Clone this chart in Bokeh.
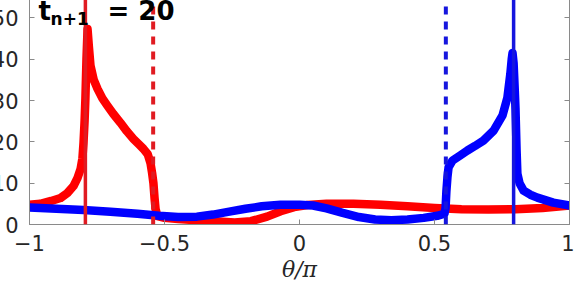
from bokeh.plotting import figure
from bokeh.models import LinearAxis, Range1d, Span, Label, FixedTicker
from bokeh.embed import file_html
from bokeh.resources import INLINE

# ---- data ----
theta_red = [-1.00, -0.96, -0.92, -0.885, -0.86, -0.837, -0.822, -0.811, -0.804, -0.80,
             -0.796, -0.793, -0.789, -0.785, -0.780, -0.774, -0.762, -0.748, -0.73, -0.711,
             -0.69, -0.663, -0.64, -0.615, -0.595, -0.578, -0.562, -0.552, -0.546, -0.541,
             -0.537, -0.533, -0.526, -0.50, -0.45, -0.38, -0.30, -0.24, -0.18, -0.12,
             -0.07, -0.02, 0.03, 0.10, 0.20, 0.30, 0.40, 0.50, 0.60, 0.70,
             0.80, 0.90, 1.00]
rho_red = [4.8, 5.0, 5.7, 6.4, 7.6, 9.3, 11.3, 13.4, 16.0, 19.7,
           25.0, 30.4, 40.0, 47.3, 43.0, 38.4, 35.0, 32.8, 30.5, 28.7,
           26.8, 24.6, 22.6, 20.7, 19.4, 18.3, 17.0, 14.9, 12.5, 10.0,
           6.5, 3.7, 2.0, 1.6, 1.3, 1.0, 0.7, 0.5, 0.8, 1.9,
           3.2, 4.2, 4.7, 5.0, 5.0, 4.8, 4.4, 4.0, 3.7, 3.6,
           3.7, 4.0, 4.6]

theta_blue = [-1.00, -0.90, -0.80, -0.70, -0.60, -0.52, -0.45, -0.38, -0.32, -0.26,
              -0.20, -0.14, -0.07, 0.00, 0.05, 0.10, 0.16, 0.22, 0.28, 0.34,
              0.40, 0.46, 0.51, 0.537, 0.541, 0.544, 0.548, 0.552, 0.567, 0.595,
              0.622, 0.65, 0.681, 0.719, 0.752, 0.770, 0.781, 0.786, 0.789, 0.793,
              0.797, 0.800, 0.804, 0.807, 0.815, 0.83, 0.855, 0.881, 0.94, 1.00]
rho_blue = [4.1, 3.8, 3.5, 3.1, 2.6, 2.1, 1.8, 1.9, 2.4, 3.1,
            3.8, 4.4, 4.8, 4.8, 4.6, 3.9, 2.8, 1.8, 1.2, 1.0,
            1.2, 1.6, 2.1, 2.6, 4.0, 8.0, 11.5, 13.8, 15.5, 16.7,
            17.9, 19.0, 20.3, 22.7, 26.4, 30.7, 36.5, 40.0, 41.5, 39.0,
            33.0, 28.0, 18.0, 12.3, 10.0, 8.2, 7.2, 6.5, 5.3, 4.6]

x_ticks = [-1, -0.5, 0, 0.5, 1]
x_tick_labels = ["\u22121", "\u22120.5", "0", "0.5", "1"]
y_ticks = [0, 10, 20, 30, 40, 50]

red_solid_x = -0.793
red_dashed_x = -0.542
blue_solid_x = 0.793
blue_dashed_x = 0.542

# ---- style ----
AX = "#8a8a8a"
TXT = "#262626"
RED = "#FF0000"
BLUE = "#0000FF"
RED_V = "#E01B22"
BLUE_V = "#1616DE"

p = figure(width=590, height=311,
           x_range=Range1d(-1, 1), y_range=Range1d(0, 60),
           output_backend="svg", toolbar_location=None,
           min_border_left=45, min_border_right=5,
           min_border_top=0, min_border_bottom=63,
           margin=(-24, 0, 0, -16))

p.grid.visible = False
p.background_fill_color = "white"
p.border_fill_color = "white"
p.outline_line_color = AX
p.outline_line_width = 1

xa = p.xaxis[0]
xa.ticker = FixedTicker(ticks=x_ticks)
xa.major_label_overrides = {t: l for t, l in zip(x_ticks, x_tick_labels)}
xa.axis_label = "\u03b8/\u03c0"
xa.axis_label_text_font = "DejaVu Serif"
xa.axis_label_text_font_style = "italic"
xa.axis_label_text_font_size = "22px"
xa.axis_label_text_color = TXT
xa.axis_label_standoff = 3
xa.major_label_standoff = 10

ya = p.yaxis[0]
ya.ticker = FixedTicker(ticks=y_ticks)
ya.major_label_standoff = 11

for ax in (xa, ya):
    ax.axis_line_color = AX
    ax.major_tick_line_color = AX
    ax.major_tick_in = 5
    ax.major_tick_out = 0
    ax.minor_tick_line_color = None
    ax.major_label_text_font = "DejaVu Sans"
    ax.major_label_text_font_size = "21px"
    ax.major_label_text_color = TXT

ra = LinearAxis(ticker=FixedTicker(ticks=y_ticks),
                major_label_overrides={t: "" for t in y_ticks},
                major_label_standoff=0,
                axis_line_color=AX, major_tick_line_color=AX,
                major_tick_in=5, major_tick_out=0, minor_tick_line_color=None)
p.add_layout(ra, "right")

p.line(theta_red, rho_red, line_width=8.5, line_color=RED, line_join="round", line_cap="round")
p.line(theta_blue, rho_blue, line_width=8.5, line_color=BLUE, line_join="round", line_cap="round")

p.add_layout(Span(location=red_solid_x, dimension="height", line_color=RED_V, line_width=3.5))
p.add_layout(Span(location=red_dashed_x, dimension="height", line_color=RED_V, line_width=4, line_dash="8 7"))
p.add_layout(Span(location=blue_solid_x, dimension="height", line_color=BLUE_V, line_width=3.5))
p.add_layout(Span(location=blue_dashed_x, dimension="height", line_color=BLUE_V, line_width=4, line_dash="8 7"))

p.add_layout(Label(x=-0.967, y=51.7, text="t", text_font="DejaVu Sans", text_font_style="bold",
                   text_font_size="26px", text_color="black", text_baseline="alphabetic"))
p.add_layout(Label(x=-0.922, y=49.8, text="n+1", text_font="DejaVu Sans", text_font_style="bold",
                   text_font_size="17px", text_color="black", text_baseline="alphabetic"))
p.add_layout(Label(x=-0.711, y=51.7, text="= 20", text_font="DejaVu Sans", text_font_style="bold",
                   text_font_size="26px", text_color="black", text_baseline="alphabetic"))

open("out.html", "w").write(file_html(p, INLINE))
